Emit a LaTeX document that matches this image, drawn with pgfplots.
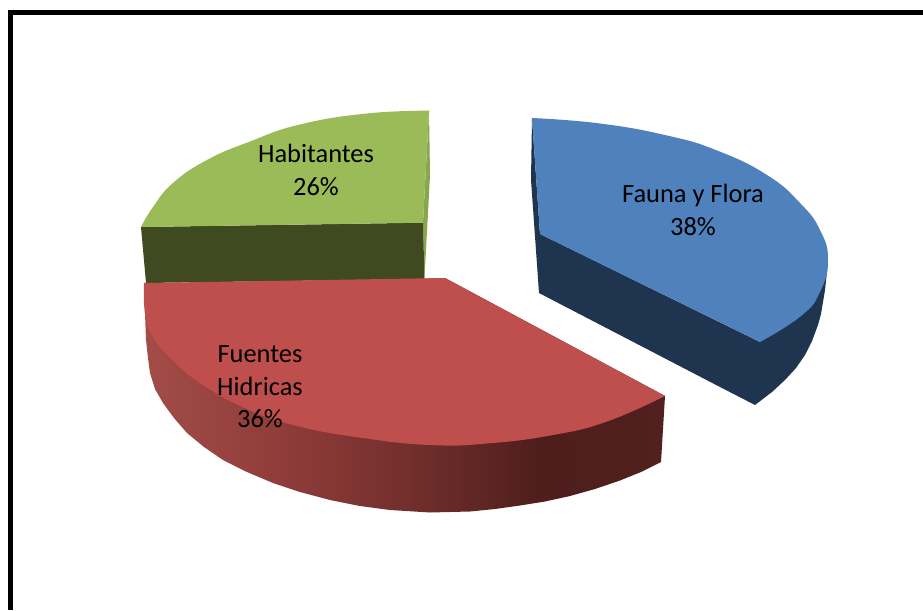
\documentclass[border=0pt]{standalone}
\usepackage{fontspec}
\setmainfont{Carlito}
\usepackage{pgfplots}
\pgfplotsset{compat=1.18}
\definecolor{bluetop}{HTML}{4F81BD}
\definecolor{blueside}{HTML}{1F344E}
\definecolor{redtop}{HTML}{BE4F4C}
\definecolor{greentop}{HTML}{9BBB59}
\definecolor{greenside}{HTML}{404A21}
\definecolor{greensliver}{HTML}{89A54E}
\definecolor{rsA}{RGB}{163,76,72}
\definecolor{rsB}{RGB}{140,58,56}
\definecolor{rsC}{RGB}{110,45,42}
\definecolor{rsD}{RGB}{78,30,28}
\definecolor{rsE}{RGB}{82,32,30}
\pgfdeclarehorizontalshading{redside}{100bp}{
 color(0bp)=(rsA);
 color(25bp)=(rsA);
 color(40bp)=(rsB);
 color(52bp)=(rsC);
 color(63bp)=(rsD);
 color(75bp)=(rsE);
 color(100bp)=(rsE)}
\begin{document}
\begin{tikzpicture}
\begin{axis}[
  scale only axis, width=923pt, height=610pt,
  xmin=0, xmax=923, ymin=0, ymax=610, y dir=reverse,
  hide axis, clip=false]
% page background
\addplot[fill=white, draw=none, no markers] coordinates {(0,0) (923,0) (923,610) (0,610)} --cycle;
% frame
\addplot[black, line width=5pt, line join=miter, line cap=rect, no markers] coordinates {(10.7,607.5) (10.7,12.5) (920.5,12.5)};
% green slice
\addplot[fill=greensliver, draw=none, no markers] coordinates {(429,110.7) (430,175) (424.5,278) (423,222.7)} --cycle;
\addplot[fill=greenside, draw=none, no markers] coordinates {(141,227) (146,283) (424.5,279) (423,222.7)} --cycle;
\addplot[fill=greentop, draw=none, no markers, smooth, tension=0.8] coordinates {(429,110.7) (367,113.5) (300,124.5) (250,141.5) (207,160) (173,183) (153,207) (141,227)} --cycle;
\addplot[fill=greentop, draw=none, no markers] coordinates {(429,110.7) (300,126) (207,162) (141,227) (423,222.7)} --cycle;
% red slice
\addplot[shading=redside, draw=none, no markers] coordinates {(144,287) (145,313) (146,340) (148,358) (150,373) (155,389) (163,403) (174,418) (187,433) (204,447) (223,460) (247,472) (273,483) (300,492) (330,500) (360,506) (390,510) (430,512.5) (470,511.5) (495,509) (520,505.5) (545,501.5) (570,496) (595,489) (620,480.5) (641,472) (661,462) (665,396) (445,278)} --cycle;
\addplot[fill=redtop, draw=none, no markers, smooth, tension=0.8] coordinates {(665,396) (607,421.5) (553,435) (487,443.5) (430,445) (363,438) (297,426) (247,409) (203,385) (173,360.5) (153,337) (145,313) (144,283)} --cycle;
\addplot[fill=redtop, draw=none, no markers] coordinates {(665,396) (430,443) (247,407) (144,283) (445,278)} --cycle;
% blue slice
\addplot[fill=blueside, draw=none, no markers] coordinates {(532,118) (531,180) (539,293) (720,387) (755,405) (772,392) (785,380) (796,368) (805,355) (812,341) (818,325) (821,314) (823,302) (825,290) (828,262) (760,342) (540,234)} --cycle;
\addplot[fill=bluetop, draw=none, no markers, smooth, tension=0.8] coordinates {(532,118) (600,123.5) (667,135.5) (717,150.5) (767,175) (800,203) (820,230) (828,260) (820,292) (801,316) (760,342)} --cycle;
\addplot[fill=bluetop, draw=none, no markers] coordinates {(532,118) (717,152) (826,260) (760,342) (540,234)} --cycle;
% labels
\begin{scope}[every node/.style={anchor=base, font=\fontsize{26.4pt}{32pt}\selectfont, text=black, inner sep=0pt}]
\node at (axis cs:316,162) {Habitantes};
\node at (axis cs:316,195) {26\%};
\node at (axis cs:693,202) {Fauna y Flora};
\node at (axis cs:693,235) {38\%};
\node at (axis cs:260,362) {Fuentes};
\node at (axis cs:260,395) {Hidricas};
\node at (axis cs:260,427) {36\%};
\end{scope}
\end{axis}
\end{tikzpicture}
\end{document}
